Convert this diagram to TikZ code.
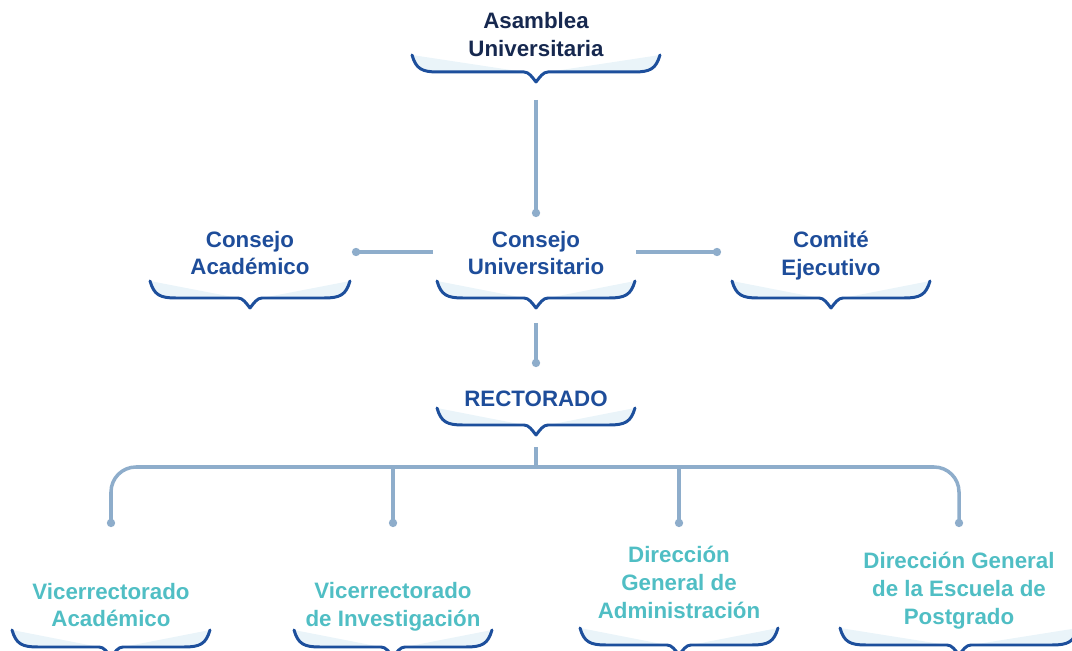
\documentclass[tikz,border=0pt]{standalone}
\usepackage{fontspec}
\setmainfont{Liberation Sans}
\usepackage{tikz}
\usetikzlibrary{positioning,calc,arrows.meta}
\definecolor{navy}{HTML}{16284F}
\definecolor{unitblue}{HTML}{1E4D9A}
\definecolor{subteal}{HTML}{50BEC4}
\definecolor{linkgray}{HTML}{8EADCB}
\definecolor{bracecol}{HTML}{1D4F9C}
\definecolor{bracefill}{HTML}{EAF4F9}
\tikzstyle{topunit} = [font=\fontsize{12.7}{15.9}\selectfont\bfseries, text=navy, align=center, inner sep=0pt]
\tikzstyle{unit} = [topunit, text=unitblue]
\tikzstyle{subunit} = [topunit, text=subteal]
\tikzstyle{wire} = [line width=2pt, draw=linkgray]
\tikzstyle{link} = [wire, -{Circle[length=4.6pt]}]
\tikzstyle{busline} = [wire, rounded corners=5mm, {Circle[length=4.6pt]}-{Circle[length=4.6pt]}]
\tikzset{unitbrace/.pic={
  \fill[bracefill] (-#1,-27) .. controls (-#1+4,-13) and (-#1+10,-10) .. (-#1+26,-10) -- (-12,-10) -- cycle;
  \fill[bracefill] (#1,-27) .. controls (#1-4,-13) and (#1-10,-10) .. (#1-26,-10) -- (12,-10) -- cycle;
  \draw[line width=1.7pt, bracecol, line cap=round, line join=round]
    (-#1,-27) .. controls (-#1+4,-13) and (-#1+10,-10) .. (-#1+26,-10) -- (-12,-10)
    .. controls (-7,-10) and (-4,-5) .. (0,0) .. controls (4,-5) and (7,-10) .. (12,-10)
    -- (#1-26,-10) .. controls (#1-10,-10) and (#1-4,-13) .. (#1,-27);
}}

\begin{document}
\begin{tikzpicture}[x=0.2mm, y=-0.2mm, on grid] % one unit is one pixel of the reference
\useasboundingbox (0,0) rectangle (1072,651);

% Place the nodes
\node(asamblea)  [topunit]                      at (536,35)  {Asamblea\\Universitaria};
\node(cu)        [unit,  below=43.6mm of asamblea]           {Consejo\\Universitario};
\node(ca)        [unit,  left=57.2mm of cu]                  {Consejo\\Académico};
\node(ce)        [unit,  right=59mm of cu, yshift=-0.6mm]    {Comité\\Ejecutivo};
\node(rect)      [unit,  below=29.2mm of cu]                 {RECTORADO};
\node(va)        [subunit]                      at (111,605) {Vicerrectorado\\Académico};
\node(vi)        [subunit, right=56.4mm of va, yshift=-0.4mm] {Vicerrectorado\\de Investigación};
\node(dga)       [subunit]                      at (679,582) {Dirección\\General de\\Administración};
\node(dgep)      [subunit]                      at (959,591) {Dirección General\\de la Escuela de\\Postgrado};

% Braces under the nodes
\pic at ($(asamblea)+(0,47)$) {unitbrace=124};
\pic at ($(ca)+(0,55)$)       {unitbrace=100};
\pic at ($(cu)+(0,55)$)       {unitbrace=99};
\pic at ($(ce)+(0,52)$)       {unitbrace=99};
\pic at ($(rect)+(0,36)$)     {unitbrace=99};
\pic at ($(va)+(0,52)$)       {unitbrace=99};
\pic at ($(vi)+(0,50)$)       {unitbrace=99};
\pic at ($(dga)+(0,73)$)      {unitbrace=99};
\pic at ($(dgep)+(0,64)$)     {unitbrace=119};

% Connect the nodes
\draw [link] ($(asamblea)+(0,65)$) -- ($(cu)+(0,-36)$);
\draw [link] ($(cu)+(-103,-1)$)    -- ($(ca)+(102,-1)$);
\draw [link] ($(cu)+(100,-1)$)     -- ($(ce)+(-110,-4)$);
\draw [link] ($(cu)+(0,70)$)       -- ($(rect)+(0,-32)$);
\draw [wire] ($(rect)+(0,48)$)     -- ($(rect)+(0,68)$);
\draw [busline] ($(va)+(0,-78)$) |- ($(rect)+(0,68)$) -| ($(dgep)+(0,-64)$);
\draw [link] ($(vi)+(0,-140)$)     -- ($(vi)+(0,-80)$);
\draw [link] ($(dga)+(0,-115)$)    -- ($(dga)+(0,-55)$);

\end{tikzpicture}
\end{document}
